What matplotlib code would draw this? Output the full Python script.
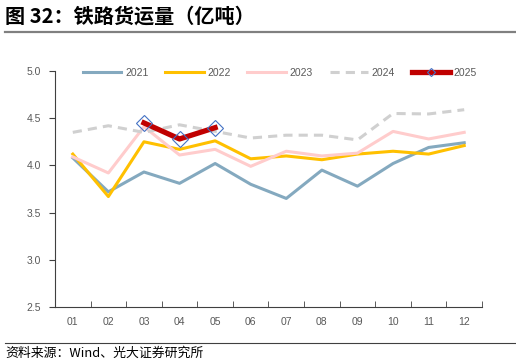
import matplotlib
matplotlib.use("Agg")
import matplotlib.pyplot as plt
from matplotlib.lines import Line2D

plt.rcParams['font.family'] = ['Liberation Sans', 'Noto Sans CJK SC', 'DejaVu Sans']
CJK = ['Noto Sans CJK SC', 'DejaVu Sans']

months = ["01", "02", "03", "04", "05", "06", "07", "08", "09", "10", "11", "12"]
y2021 = [4.08, 3.72, 3.93, 3.81, 4.02, 3.80, 3.65, 3.95, 3.78, 4.02, 4.19, 4.24]
y2022 = [4.12, 3.67, 4.25, 4.17, 4.26, 4.07, 4.10, 4.06, 4.12, 4.15, 4.12, 4.21]
y2023 = [4.09, 3.92, 4.41, 4.11, 4.17, 3.99, 4.15, 4.10, 4.13, 4.36, 4.28, 4.35]
y2024 = [4.35, 4.42, 4.35, 4.43, 4.36, 4.29, 4.32, 4.32, 4.27, 4.55, 4.545, 4.59]
months2025 = ["03", "04", "05"]
y2025 = [4.45, 4.28, 4.40]

yticks = [2.5, 3.0, 3.5, 4.0, 4.5, 5.0]

fig = plt.figure(figsize=(5.16, 3.64), dpi=100)
ax = fig.add_axes([55/516, 1 - 307/364, (482-55)/516, (307-71)/364])

x = list(range(1, 13))
x2025 = [months.index(m) + 1 for m in months2025]
ax.plot(x, y2021, color='#84A9BF', lw=2.2, label='2021')
ax.plot(x, y2022, color='#FFC000', lw=2.2, label='2022')
ax.plot(x, y2023, color='#FFCCCC', lw=2.2, label='2023')
ax.plot(x, y2024, color='#D0D0D0', lw=2.2, ls=(0, (3, 2)), label='2024')
ax.plot(x2025, y2025, color='#C00000', lw=3.8, label='2025',
        marker='D', markersize=8.5, markerfacecolor='none',
        markeredgecolor='#4472C4', markeredgewidth=0.8)

ax.set_xlim(0.5, 12.5)
ax.set_ylim(2.5, 5.0)
ax.set_yticks(yticks)
ax.set_yticklabels([f"{v:.1f}" for v in yticks])
ax.set_xticks(x)
ax.set_xticklabels(months)
ax.set_xticks([i + 0.5 for i in range(0, 13)], minor=True)
ax.tick_params(axis='x', which='major', length=0, pad=7, labelsize=7.5, labelcolor='#595959')
ax.tick_params(axis='x', which='minor', length=4, direction='in', color='#404040')
ax.tick_params(axis='y', length=4, direction='out', color='#404040', labelsize=7.5,
               labelcolor='#595959', pad=6)
for s in ['top', 'right']:
    ax.spines[s].set_visible(False)
for s in ['left', 'bottom']:
    ax.spines[s].set_color('#404040')
    ax.spines[s].set_linewidth(0.8)

leg = ax.legend(loc='center', bbox_to_anchor=((280-55)/427, 1 - 2/236), ncol=5, frameon=False,
                fontsize=7.5, handlelength=3.7, columnspacing=1.6, handletextpad=0.35,
                borderpad=0)
for t in leg.get_texts():
    t.set_color('#595959')
leg.legend_handles[4].set_markersize(4)

fig.text(5/516, 1 - 16/364, "图 32：铁路货运量（亿吨）", fontsize=14.5, fontweight='bold',
         va='center', ha='left', color='#000000', family=CJK)
fig.add_artist(Line2D([5/516, 1.0], [1 - 32/364, 1 - 32/364], color='#808080', lw=1.6))
fig.add_artist(Line2D([5/516, 1.0], [1 - 343/364, 1 - 343/364], color='#404040', lw=0.8))
fig.text(5/516, 1 - 353/364, "资料来源：Wind、光大证券研究所", fontsize=9.3, va='center', ha='left',
         color='#000000', family=CJK)

fig.savefig("out.png", dpi=100)
